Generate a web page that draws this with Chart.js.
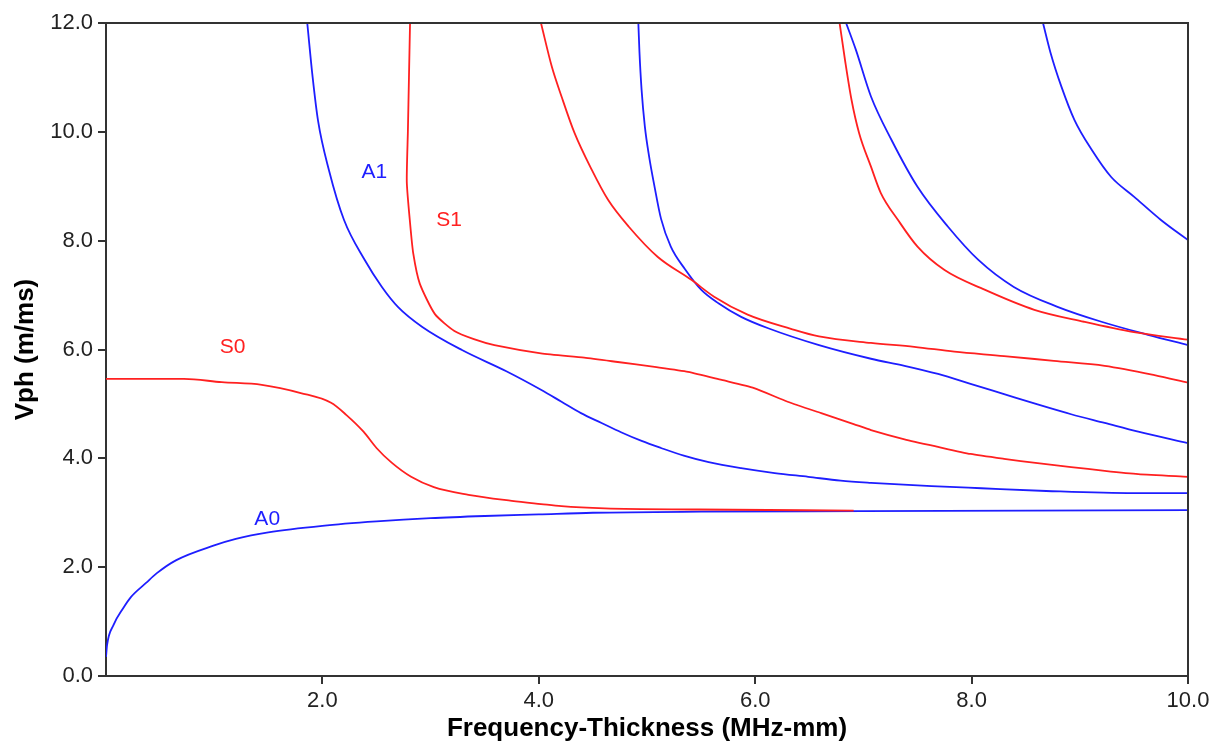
<!DOCTYPE html>
<html>
<head>
<meta charset="utf-8">
<title>Dispersion curves</title>
<script src="https://cdn.jsdelivr.net/npm/chart.js@4.4.1/dist/chart.umd.min.js"></script>
<style>
  html, body { margin: 0; padding: 0; background: #fff; }
  canvas { display: block; }
</style>
</head>
<body>
<canvas id="chart" width="1219" height="749"></canvas>
<script>
// tick values
const xTicks = [2, 4, 6, 8, 10];
const yTicks = [0, 2, 4, 6, 8, 10, 12];

// modes as [frequency-thickness, phase velocity]
const modeA0 = [[0, 0.35], [0.01, 0.57], [0.07, 0.94], [0.16, 1.25], [0.23, 1.45], [0.37, 1.71], [0.47, 1.89],
  [0.65, 2.13], [1.0, 2.4], [1.2, 2.52], [1.5, 2.64], [2.0, 2.76], [2.5, 2.84], [3.0, 2.9], [3.5, 2.94],
  [4.0, 2.97], [4.5, 3.0], [5.5, 3.02], [7.0, 3.03], [8.5, 3.04], [10, 3.05]];
const modeS0 = [[0, 5.46], [0.72, 5.46], [1.07, 5.4], [1.44, 5.35], [1.8, 5.2], [2.08, 5.02], [2.22, 4.8],
  [2.38, 4.49], [2.5, 4.19], [2.64, 3.92], [2.82, 3.66], [3.03, 3.47], [3.35, 3.33], [3.75, 3.22],
  [4.02, 3.16], [4.21, 3.12], [4.61, 3.08], [5.47, 3.06], [6.91, 3.04]];
const modeA1 = [[1.86, 12], [1.91, 11], [1.96, 10.2], [2.06, 9.3], [2.2, 8.38], [2.39, 7.65], [2.55, 7.15],
  [2.7, 6.78], [2.92, 6.42], [3.29, 5.99], [3.7, 5.6], [4.02, 5.26], [4.21, 5.04], [4.39, 4.83],
  [4.58, 4.65], [4.76, 4.48], [4.95, 4.32], [5.13, 4.19], [5.34, 4.05], [5.57, 3.93], [5.87, 3.82],
  [6.18, 3.73], [6.49, 3.66], [6.79, 3.59], [7.07, 3.55], [7.63, 3.49], [8.09, 3.45], [8.69, 3.4],
  [9.5, 3.36], [10, 3.36]];
const modeS1 = [[2.81, 12], [2.8, 11], [2.79, 10], [2.78, 9.08], [2.81, 8.33], [2.84, 7.76], [2.9, 7.21],
  [3.04, 6.65], [3.22, 6.34], [3.4, 6.19], [3.59, 6.08], [4.02, 5.93], [4.42, 5.85], [4.73, 5.77],
  [5.07, 5.68], [5.38, 5.59], [5.69, 5.44], [5.99, 5.29], [6.3, 5.04], [6.61, 4.83], [6.91, 4.63],
  [7.07, 4.52], [7.38, 4.35], [7.69, 4.21], [7.99, 4.08], [8.3, 3.99], [8.61, 3.91], [8.92, 3.84],
  [9.23, 3.77], [9.54, 3.71], [10, 3.66]];
const modeS2 = [[4.02, 12], [4.12, 11.2], [4.21, 10.65], [4.33, 9.98], [4.49, 9.3], [4.64, 8.75], [4.83, 8.26],
  [5.1, 7.7], [5.41, 7.28], [5.62, 6.97], [5.93, 6.64], [6.33, 6.38], [6.59, 6.24], [7.07, 6.12],
  [7.47, 6.05], [7.84, 5.96], [8.3, 5.88], [8.76, 5.79], [9.23, 5.7], [9.69, 5.53], [10, 5.39]];
const modeA2 = [[4.92, 12], [4.93, 11.48], [4.95, 10.77], [4.98, 10.1], [5.02, 9.54], [5.07, 8.99], [5.13, 8.4],
  [5.22, 7.89], [5.35, 7.48], [5.5, 7.1], [5.66, 6.85], [5.87, 6.6], [6.12, 6.39], [6.59, 6.08],
  [7.07, 5.83], [7.38, 5.7], [7.69, 5.55], [7.99, 5.37], [8.3, 5.18], [8.61, 4.99], [8.92, 4.81],
  [9.23, 4.65], [9.54, 4.49], [10, 4.28]];
const modeS3 = [[6.78, 12], [6.83, 11.32], [6.89, 10.59], [6.96, 9.98], [7.07, 9.36], [7.16, 8.88], [7.32, 8.38],
  [7.5, 7.89], [7.75, 7.46], [8.12, 7.1], [8.58, 6.73], [9.04, 6.51], [9.5, 6.32], [10, 6.18]];
const modeA3 = [[6.84, 12], [6.93, 11.51], [7.07, 10.65], [7.26, 9.85], [7.5, 8.99], [7.78, 8.26], [8.06, 7.65],
  [8.39, 7.15], [8.8, 6.78], [9.2, 6.51], [9.63, 6.27], [10, 6.08]];
const modeA4 = [[8.66, 12], [8.73, 11.45], [8.83, 10.83], [8.95, 10.22], [9.11, 9.67], [9.29, 9.17], [9.5, 8.81],
  [9.75, 8.38], [10, 8.01]];

// mode names written on the plot
const labelText = ['A0', 'S0', 'A1', 'S1'];
const labelX = [1.49, 1.17, 2.48, 3.17];
const labelY = [2.88, 6.05, 9.25, 8.38];

const RED = '#ff2020';
const BLUE = '#1e1eff';
const AXIS = '#333';

const toPoints = arr => arr.map(p => ({x: p[0], y: p[1]}));

// S1 doubles back near its cutoff, so it can't use monotone interpolation
const modes = [
  {data: modeS0, color: RED},
  {data: modeA0, color: BLUE},
  {data: modeS1, color: RED, bends: true},
  {data: modeA1, color: BLUE},
  {data: modeS2, color: RED},
  {data: modeA2, color: BLUE},
  {data: modeS3, color: RED},
  {data: modeA3, color: BLUE},
  {data: modeA4, color: BLUE},
];

const frame = {
  id: 'frame',
  afterDraw(chart) {
    const {ctx, chartArea: a} = chart;
    ctx.save();
    ctx.strokeStyle = AXIS;
    ctx.lineWidth = 2;
    ctx.beginPath();
    ctx.moveTo(a.left, a.top);
    ctx.lineTo(a.right, a.top);
    ctx.lineTo(a.right, a.bottom);
    ctx.stroke();
    ctx.restore();
  }
};

const modeLabels = {
  id: 'modeLabels',
  afterDatasetsDraw(chart) {
    const {ctx, scales} = chart;
    ctx.save();
    ctx.font = '21px "Liberation Sans", Arial, sans-serif';
    ctx.textAlign = 'center';
    ctx.textBaseline = 'middle';
    labelText.forEach((t, i) => {
      ctx.fillStyle = t[0] === 'S' ? RED : BLUE;
      ctx.fillText(t, scales.x.getPixelForValue(labelX[i]), scales.y.getPixelForValue(labelY[i]));
    });
    ctx.restore();
  }
};

const tickFont = {family: '"Liberation Sans", Arial, sans-serif', size: 22};
const titleFont = {family: '"Liberation Sans", Arial, sans-serif', size: 26, weight: 'bold'};

new Chart(document.getElementById('chart'), {
  type: 'line',
  data: {
    datasets: modes.map(m => ({
      data: toPoints(m.data),
      borderColor: m.color,
      borderWidth: 1.8,
      pointRadius: 0,
      fill: false,
      cubicInterpolationMode: m.bends ? 'default' : 'monotone',
      tension: m.bends ? 0.2 : 0.4,
    })),
  },
  options: {
    responsive: false,
    animation: false,
    devicePixelRatio: 1,
    layout: {padding: {top: 23, right: 31, left: 0, bottom: 0}},
    plugins: {legend: {display: false}, tooltip: {enabled: false}},
    scales: {
      x: {
        type: 'linear',
        min: 0,
        max: 10,
        afterBuildTicks: s => { s.ticks = xTicks.map(v => ({value: v})); },
        afterFit: s => { s.height = 73; },
        ticks: {callback: v => v.toFixed(1), font: tickFont, color: '#222', padding: 4, maxRotation: 0, autoSkip: false},
        grid: {drawOnChartArea: false, drawTicks: true, tickLength: 8, color: AXIS, lineWidth: 2},
        border: {color: AXIS, width: 2},
        title: {display: true, text: 'Frequency-Thickness (MHz-mm)', font: titleFont, color: '#000', padding: {top: 6, bottom: 5}},
      },
      y: {
        type: 'linear',
        min: 0,
        max: 12,
        afterBuildTicks: s => { s.ticks = yTicks.map(v => ({value: v})); },
        afterFit: s => { s.width = 106; },
        ticks: {callback: v => v.toFixed(1), font: tickFont, color: '#222', padding: 5, autoSkip: false},
        grid: {drawOnChartArea: false, drawTicks: true, tickLength: 8, color: AXIS, lineWidth: 2},
        border: {color: AXIS, width: 2},
        title: {display: true, text: 'Vph (m/ms)', font: titleFont, color: '#000', padding: {top: 10, bottom: 0}},
      },
    },
  },
  plugins: [frame, modeLabels],
});
</script>
</body>
</html>
